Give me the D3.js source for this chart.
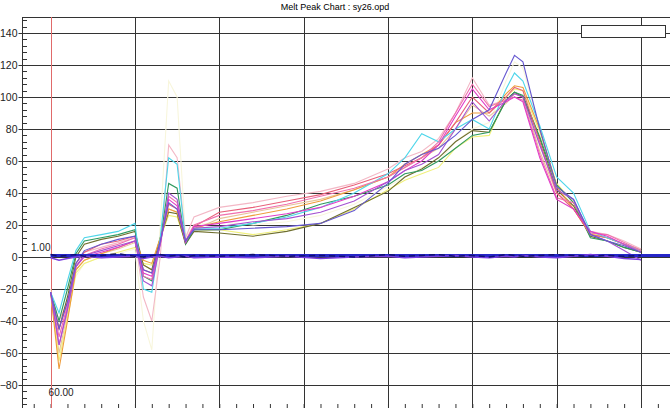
<!DOCTYPE html>
<html>
<head>
<meta charset="utf-8">
<script src="https://cdn.jsdelivr.net/npm/d3@7"></script>
<style>
body { margin: 0; background: #fff; }
text { font-family: "Liberation Sans", Arial, sans-serif; }
</style>
</head>
<body>
<div id="vis"></div>
<script>
var width = 670;
var height = 408;

// temperatures (deg C) of the sampled points
var temps = [60, 60.5, 61, 61.5, 62, 63, 64, 65, 65.5, 66, 66.5, 67, 67.5, 68, 68.5, 70, 72, 74, 76, 78,
    80, 81, 82, 83, 84, 85, 86, 87, 87.5, 88, 89, 90, 91, 92, 93, 94, 95];

var cyanVals = [-22, -35, -15, 4, 12, 14, 16, 21, -20, -22, 12, 62, 58, 10, 18, 18, 21, 25, 31, 40,
    52, 62, 77, 72, 80, 86, 80, 105, 115, 110, 82, 50, 40, 16, 12, 8, 4];
var blueVals = [-22, -45, -28, -4, 4, 8, 11, 13, -8, -10, 10, 34, 30, 10, 17, 17, 18, 19, 21, 29,
    46, 58, 64, 68, 76, 86, 92, 115, 126, 122, 80, 44, 36, 14, 10, 7, 3];
var greenVals = [-22, -40, -20, 2, 10, 12, 14, 17, -12, -15, 10, 46, 43, 8, 17, 17, 21, 26, 33, 38,
    45, 52, 54, 60, 68, 76, 78, 98, 103, 101, 75, 45, 34, 12, 10, 6, 3];
var oliveVals = [-22, -45, -25, 0, 8, 11, 13, 16, -5, -8, 12, 28, 27, 8, 16, 15, 13, 16, 21, 31,
    41, 50, 55, 62, 72, 79, 78, 98, 103, 100, 74, 42, 32, 13, 10, 6, 3];
var orangeVals = [-22, -70, -40, -8, -2, 2, 6, 10, -2, -4, 12, 30, 28, 10, 18, 22, 26, 30, 35, 42,
    50, 58, 64, 70, 84, 90, 90, 102, 107, 106, 80, 44, 30, 14, 12, 8, 4];
var yellowVals = [-22, -65, -38, -10, -4, 0, 3, 6, -4, -5, 12, 26, 25, 9, 16, 17, 14, 17, 21, 30,
    42, 48, 52, 56, 68, 75, 76, 100, 105, 104, 78, 46, 34, 15, 12, 8, 4];
var lightPinkVals = [-22, -40, -28, -4, 3, 6, 9, 12, -25, -40, 0, 70, 62, 12, 25, 31, 34, 38, 41, 46,
    55, 62, 66, 74, 90, 112, 95, 98, 102, 100, 70, 40, 32, 16, 14, 10, 5];
var pinkVals = [-22, -50, -30, -6, 1, 5, 8, 12, -12, -14, 8, 38, 34, 10, 20, 26, 29, 33, 38, 43,
    50, 56, 62, 72, 90, 108, 94, 98, 100, 98, 64, 37, 34, 15, 14, 9, 4];
var magentaVals = [-22, -55, -32, -6, 0, 3, 6, 10, -10, -12, 8, 36, 32, 9, 19, 21, 24, 27, 31, 38,
    47, 54, 60, 70, 88, 105, 92, 97, 100, 97, 62, 36, 30, 16, 13, 8, 3];
var redVals = [-22, -45, -28, -4, 3, 8, 10, 13, -8, -10, 10, 33, 30, 10, 19, 28, 31, 35, 39, 45,
    52, 57, 62, 70, 84, 100, 90, 100, 106, 104, 72, 40, 30, 14, 12, 8, 4];
var purpleVals = [-22, -55, -33, -6, 1, 4, 7, 10, -15, -18, 8, 40, 36, 10, 18, 19, 22, 24, 28, 35,
    47, 54, 58, 64, 80, 97, 85, 98, 102, 100, 70, 42, 36, 14, 10, 4, -2];
var tanVals = [-22, -60, -35, -8, -2, 2, 5, 9, -5, -8, 10, 30, 28, 9, 17, 24, 28, 32, 36, 42,
    50, 56, 62, 68, 80, 95, 88, 96, 102, 100, 66, 40, 30, 14, 12, 8, 5];
var paleVals = [-20, -62, -38, -12, -4, 0, 2, 5, -40, -58, 20, 110, 100, 12, 20, 22, 20, 22, 26, 33,
    44, 50, 56, 60, 72, 80, 84, 110, 122, 118, 80, 44, 32, 14, 12, 8, 4];
// no-template controls sitting on the baseline
var navyVals = [1.5, 0.5, 1, 1.5, 0.5, 1, 2, 0.5, 0, 1, 1.5, 0.5, 1, 0, 1, 0.5, 1.5, 0.5, 1, 0,
    1.5, 0.5, 1, 1.5, 0.5, 1, 0, 1.5, 1, 0.5, 1, 1.5, 1, 0.5, 1, 0.5, 1];
var violetVals = [-0.5, -2, -1, 0, 0.5, -0.5, 0, 0.5, -1, 0, 0.5, -0.5, 0, 0.5, -0.5, 0, -0.5, 0.5, -1, 0,
    0.5, -0.5, 0, 0.5, 1, 0, -0.5, 0.5, 0, 1, 0, -0.5, 0.5, 1.5, 0.5, -1, -1.5];

var seriesNames = ['pale', 'tan', 'yellow', 'lightPink', 'olive', 'green', 'orange', 'red',
    'cyan', 'pink', 'magenta', 'purple', 'blue'];
var seriesVals = [paleVals, tanVals, yellowVals, lightPinkVals, oliveVals, greenVals, orangeVals, redVals,
    cyanVals, pinkVals, magentaVals, purpleVals, blueVals];
var seriesColors = ['#f8f6dc', '#e8c49a', '#f0f07a', '#f3b8c6', '#6e6e2e', '#2f9a5e', '#ee9c3c', '#e8607a',
    '#4fd6ea', '#f070ae', '#e03cc8', '#a452d2', '#6658d0'];

var yTicks = [-80, -60, -40, -20, 0, 20, 40, 60, 80, 100, 120, 140];
var threshold = 1.00;
var startTemp = 60.00;
var title = 'Melt Peak Chart : sy26.opd';

var plotLeft = 22, plotTop = 17;
var x = d3.scaleLinear().domain([60, 95]).range([50.6, 641]);
var y = d3.scaleLinear().domain([150, -94.375]).range([plotTop, height]);

var svg = d3.select('#vis')
    .append('svg')
    .attr('width', width)
    .attr('height', height);

svg.append('text')
    .attr('x', 335)
    .attr('y', 10)
    .attr('text-anchor', 'middle')
    .style('font-size', '9px')
    .text(title);

// grid
svg.append('g').selectAll('line')
    .data(yTicks)
    .enter().append('line')
    .attr('x1', plotLeft).attr('x2', width)
    .attr('y1', function (d) { return Math.round(y(d)) + 0.5; })
    .attr('y2', function (d) { return Math.round(y(d)) + 0.5; })
    .attr('stroke', '#333');
svg.append('g').selectAll('line')
    .data([65, 70, 75, 80, 85, 90, 95])
    .enter().append('line')
    .attr('x1', function (d) { return Math.round(x(d)) + 0.5; })
    .attr('x2', function (d) { return Math.round(x(d)) + 0.5; })
    .attr('y1', plotTop).attr('y2', height)
    .attr('stroke', '#333');
svg.append('line')
    .attr('x1', plotLeft).attr('x2', width)
    .attr('y1', plotTop + 0.5).attr('y2', plotTop + 0.5)
    .attr('stroke', '#333');

// y axis: labelled ticks out, minor ticks in
var yAxis = d3.axisLeft(y).tickValues(yTicks).tickSize(4).tickPadding(1);
var yg = svg.append('g')
    .attr('transform', 'translate(' + (plotLeft + 0.5) + ',0)')
    .call(yAxis);
yg.select('.domain').remove();
yg.selectAll('.tick line').attr('stroke', '#333');
yg.selectAll('text').style('font-size', '10.5px').attr('fill', '#222')
    .attr('font-family', '"Liberation Sans", Arial, sans-serif');
var minorY = d3.range(-92, 150, 4).filter(function (v) { return v % 20 !== 0; });
svg.append('g').selectAll('line')
    .data(minorY)
    .enter().append('line')
    .attr('x1', plotLeft).attr('x2', plotLeft + 5)
    .attr('y1', function (d) { return Math.round(y(d)) + 0.5; })
    .attr('y2', function (d) { return Math.round(y(d)) + 0.5; })
    .attr('stroke', '#333');
svg.append('line')
    .attr('x1', plotLeft + 0.5).attr('x2', plotLeft + 0.5)
    .attr('y1', plotTop).attr('y2', height)
    .attr('stroke', '#333');

// bottom ticks, one per degree
var xAxis = d3.axisTop(x).tickValues(d3.range(59, 97)).tickSize(5).tickFormat('');
var xg = svg.append('g')
    .attr('transform', 'translate(0,' + (height + 1) + ')')
    .call(xAxis);
xg.select('.domain').remove();
xg.selectAll('.tick line').attr('stroke', '#333');

// start marker
svg.append('line')
    .attr('x1', Math.round(x(startTemp)) + 0.5).attr('x2', Math.round(x(startTemp)) + 0.5)
    .attr('y1', plotTop).attr('y2', height)
    .attr('stroke', '#e06a6a');
svg.append('text')
    .attr('x', x(startTemp) - 2)
    .attr('y', 396)
    .style('font-size', '10px')
    .attr('fill', '#222')
    .text(startTemp.toFixed(2));

var line = d3.line()
    .x(function (d, i) { return x(temps[i]); })
    .y(function (d) { return y(d); });

svg.append('g').selectAll('path')
    .data(seriesVals)
    .enter().append('path')
    .attr('d', line)
    .attr('fill', 'none')
    .attr('stroke', function (d, i) { return seriesColors[i]; })
    .attr('stroke-width', 1.1);

// threshold line
svg.append('line')
    .attr('x1', x(startTemp)).attr('x2', width)
    .attr('y1', y(threshold)).attr('y2', y(threshold))
    .attr('stroke', '#2626c8')
    .attr('stroke-width', 3);
svg.append('text')
    .attr('x', 31)
    .attr('y', y(threshold) - 4)
    .style('font-size', '10px')
    .attr('fill', '#222')
    .text(threshold.toFixed(2));

svg.append('path')
    .attr('d', line(violetVals))
    .attr('fill', 'none')
    .attr('stroke', '#7a3ee0')
    .attr('stroke-width', 1.5);
svg.append('path')
    .attr('d', line(navyVals))
    .attr('fill', 'none')
    .attr('stroke', '#101070')
    .attr('stroke-width', 1.5)
    .attr('stroke-dasharray', '6,4');

// legend box
svg.append('rect')
    .attr('x', 581.5).attr('y', 25.5)
    .attr('width', 84).attr('height', 12)
    .attr('fill', '#fff')
    .attr('stroke', '#333');
</script>
</body>
</html>
